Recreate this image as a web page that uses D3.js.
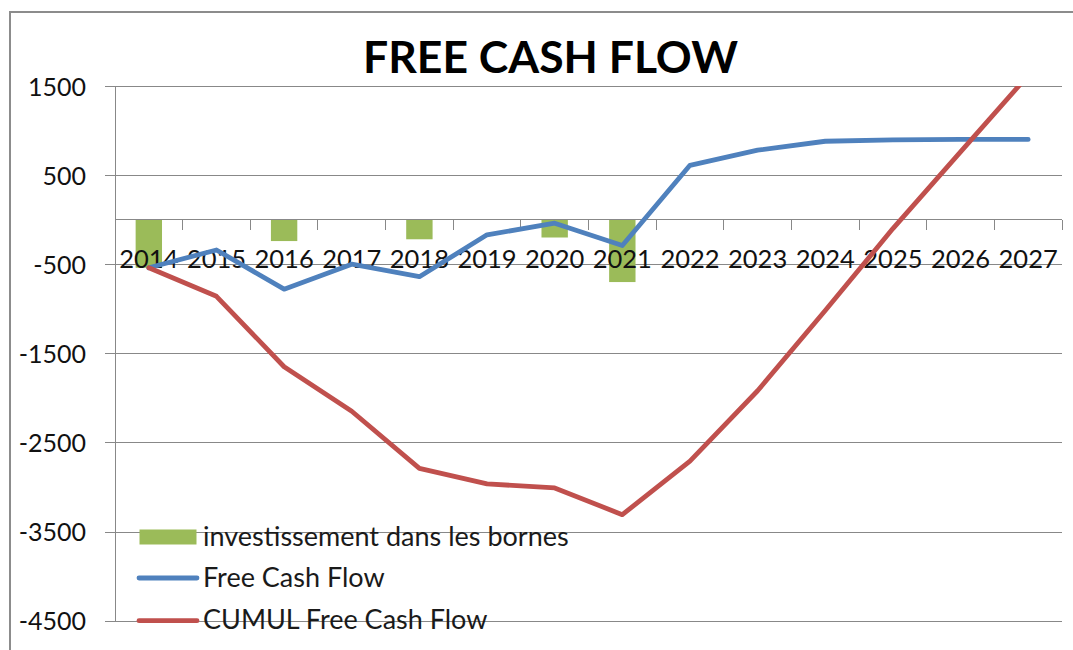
<!DOCTYPE html>
<html><head><meta charset="utf-8">
<script src="https://cdn.jsdelivr.net/npm/d3@7"></script>
<style>body{margin:0;background:#fff}svg{display:block}</style>
</head><body>
<svg id="c" width="1073" height="650"></svg>
<script>
// ---- data ----
const years = ["2014","2015","2016","2017","2018","2019","2020","2021","2022","2023","2024","2025","2026","2027"];
const investissement = [-540, null, -240, null, -220, null, -200, -700, null, null, null, null, null, null];
const freeCashFlow = [-540, -340, -780, -500, -640, -170, -40, -290, 610, 780, 880, 895, 900, 900];
const cumulFreeCashFlow = [-540, -860, -1650, -2150, -2790, -2965, -3010, -3310, -2710, -1920, -1020, -100, 760, 1620];
const yTicks = [1500, 500, -500, -1500, -2500, -3500, -4500];
const seriesNames = ["investissement dans les bornes", "Free Cash Flow", "CUMUL Free Cash Flow"];
const chartTitle = "FREE CASH FLOW";

// ---- layout ----
const svg = d3.select("#c");
const L = 115, R = 1062, T = 86, B = 620.7;
const green = "#9BBB59", blue = "#4F81BD", red = "#C0504D", grid = "#888888";
const font = "Lato, 'Open Sans', sans-serif";

const x = d3.scaleBand().domain(years).range([L, R]).padding(0);
const y = d3.scaleLinear().domain([-4500, 1500]).range([B, T]);
const bw = x.bandwidth();
const cx = d => x(d) + bw / 2;

// outer border
svg.append("rect").attr("x", 10).attr("y", 12).attr("width", 1200).attr("height", 800)
  .attr("fill", "none").attr("stroke", "#8c8c8c").attr("stroke-width", 2);

// gridlines
const gGrid = svg.append("g").attr("transform", `translate(${L},0)`)
  .call(d3.axisLeft(y).tickValues(yTicks).tickSize(-(R - L)).tickFormat(""));
gGrid.select(".domain").remove();
gGrid.selectAll("line").attr("stroke", grid).attr("shape-rendering", "crispEdges");

// bars
const barW = bw * 0.39;
svg.append("g").selectAll("rect")
  .data(years.map((d, i) => ({year: d, v: investissement[i]})).filter(d => d.v != null))
  .join("rect")
  .attr("x", d => cx(d.year) - barW / 2)
  .attr("y", d => Math.min(y(0), y(d.v)))
  .attr("width", barW)
  .attr("height", d => Math.abs(y(d.v) - y(0)))
  .attr("fill", green);

// y axis with ticks & labels
const gY = svg.append("g").attr("transform", `translate(${L},0)`)
  .call(d3.axisLeft(y).tickValues(yTicks).tickSize(10).tickPadding(19).tickSizeOuter(0)
    .tickFormat(d => String(d)));
gY.select(".domain").attr("stroke", grid).attr("shape-rendering", "crispEdges");
gY.selectAll("line").attr("stroke", grid).attr("shape-rendering", "crispEdges");
gY.selectAll("text").attr("font-family", font).attr("font-size", 25).attr("fill", "#111").attr("dy", "0.36em");

// horizontal (category) axis at zero
const y0 = y(0);
svg.append("line").attr("x1", L).attr("x2", R).attr("y1", y0).attr("y2", y0)
  .attr("stroke", grid).attr("shape-rendering", "crispEdges");
const bounds = years.map(d => x(d)).concat([R]);
svg.append("g").selectAll("line").data(bounds).join("line")
  .attr("x1", d => d).attr("x2", d => d).attr("y1", y0).attr("y2", y0 + 10)
  .attr("stroke", grid).attr("shape-rendering", "crispEdges");
svg.append("g").selectAll("text").data(years).join("text")
  .attr("x", d => cx(d)).attr("y", y0 + 48)
  .attr("text-anchor", "middle").attr("font-family", font).attr("font-size", 25.5).attr("fill", "#111")
  .text(d => d);

// lines
svg.append("defs").append("clipPath").attr("id", "plot")
  .append("rect").attr("x", L).attr("y", T).attr("width", R - L).attr("height", B - T);
const line = d3.line().x(d => cx(d.year)).y(d => y(d.v));
const mk = arr => years.map((d, i) => ({year: d, v: arr[i]}));
const gL = svg.append("g").attr("clip-path", "url(#plot)");
gL.append("path").datum(mk(freeCashFlow)).attr("d", line)
  .attr("fill", "none").attr("stroke", blue).attr("stroke-width", 4.8)
  .attr("stroke-linejoin", "round").attr("stroke-linecap", "round");
gL.append("path").datum(mk(cumulFreeCashFlow)).attr("d", line)
  .attr("fill", "none").attr("stroke", red).attr("stroke-width", 4.8)
  .attr("stroke-linejoin", "round").attr("stroke-linecap", "round");

// legend
const lg = svg.append("g");
const legendRows = [
  {name: seriesNames[0], color: green, type: "bar", yc: 537, base: 546},
  {name: seriesNames[1], color: blue, type: "line", yc: 578, base: 587},
  {name: seriesNames[2], color: red, type: "line", yc: 620.7, base: 629}
];
legendRows.forEach(r => {
  if (r.type === "bar") {
    lg.append("rect").attr("x", 139.5).attr("y", r.yc - 7.5).attr("width", 57).attr("height", 15).attr("fill", r.color);
  } else {
    lg.append("line").attr("x1", 139).attr("x2", 197).attr("y1", r.yc).attr("y2", r.yc)
      .attr("stroke", r.color).attr("stroke-width", 4.8).attr("stroke-linecap", "round");
  }
  lg.append("text").attr("x", 203).attr("y", r.base).attr("font-family", font).attr("font-size", 27)
    .attr("fill", "#1a1a1a").text(r.name);
});

// title
const t = svg.append("text").attr("x", 550.5).attr("y", 73).attr("text-anchor", "middle")
  .attr("font-family", font).attr("font-weight", "bold").attr("font-size", 48).attr("fill", "#000")
  .text(chartTitle);
const w = t.node().getComputedTextLength();
if (w > 0) t.attr("font-size", 48 * 375 / w);
</script>
</body></html>
